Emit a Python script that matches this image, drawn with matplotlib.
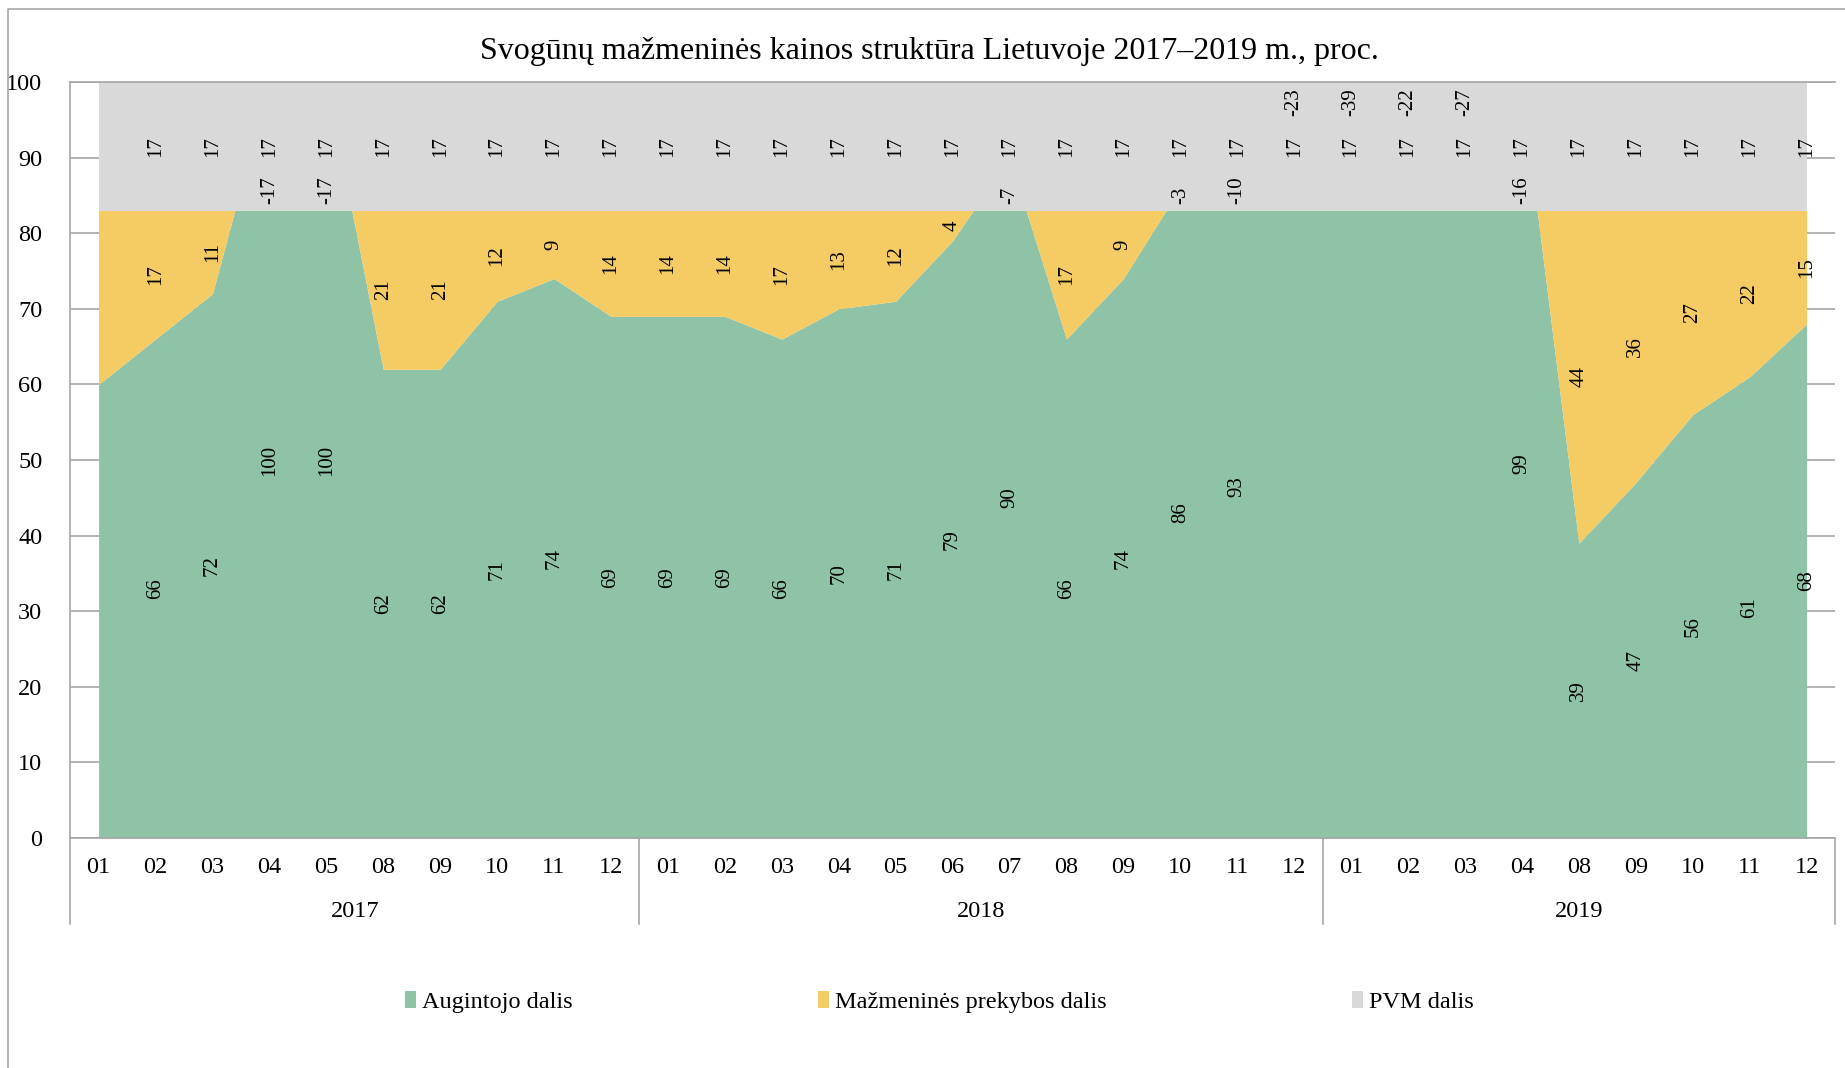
import numpy as np
import matplotlib
matplotlib.use('Agg')
import matplotlib.pyplot as plt
from matplotlib.lines import Line2D
from matplotlib.patches import Patch
import matplotlib.transforms as mtransforms

plt.rcParams['font.family'] = ['Liberation Serif', 'DejaVu Serif']

# menesiai pagal metus
years = ['2017', '2018', '2019']
months_2017 = ['01', '02', '03', '04', '05', '08', '09', '10', '11', '12']
months_2018 = ['01', '02', '03', '04', '05', '06', '07', '08', '09', '10', '11', '12']
months_2019 = ['01', '02', '03', '04', '08', '09', '10', '11', '12']

# kainos strukturos dalys, proc.
augintojo = [60, 66, 72, 100, 100, 62, 62, 71, 74, 69,
             69, 69, 66, 70, 71, 79, 90, 66, 74, 86, 93, 106,
             122, 105, 110, 99, 39, 47, 56, 61, 68]
prekybos = [23, 17, 11, -17, -17, 21, 21, 12, 9, 14,
            14, 14, 17, 13, 12, 4, -7, 17, 9, -3, -10, -23,
            -39, -22, -27, -16, 44, 36, 27, 22, 15]
pvm = [17, 17, 17, 17, 17, 17, 17, 17, 17, 17,
       17, 17, 17, 17, 17, 17, 17, 17, 17, 17, 17, 17,
       17, 17, 17, 17, 17, 17, 17, 17, 17]

series_names = ['Augintojo dalis', 'Mažmeninės prekybos dalis', 'PVM dalis']
colors = ['#8EC3A7', '#F5CB63', '#D9D9D9']

months = months_2017 + months_2018 + months_2019
x = np.arange(len(months))
c1 = np.array(augintojo, dtype=float)
c2 = c1 + np.array(prekybos)
c3 = c2 + np.array(pvm)

fig = plt.figure(figsize=(18.45, 10.68), dpi=100)
ax = fig.add_axes([0.038, 0.2154, 0.9566, 0.7078])

ax.fill_between(x, 0, c1, color=colors[0], lw=0, zorder=2)
ax.fill_between(x, c1, c2, color=colors[1], lw=0, zorder=2)
ax.fill_between(x, c2, c3, color=colors[2], lw=0, zorder=2)

ax.set_xlim(-0.5, len(months) - 0.5)
ax.set_ylim(0, 100)
ax.set_yticks(np.arange(0, 101, 10))
ax.grid(axis='y', color='#A6A6A6', lw=1.2, zorder=0)
ax.set_axisbelow(True)
ax.tick_params(axis='y', length=0, pad=20, labelsize=17.5)
ax.set_xticks(x)
ax.set_xticklabels(months)
ax.tick_params(axis='x', length=0, pad=14, labelsize=17.5)
ax.spines['right'].set_visible(False)
for s in ['left', 'bottom', 'top']:
    ax.spines[s].set_color('#A6A6A6')
    ax.spines[s].set_linewidth(1.2)
ax.spines['top'].set_zorder(3)

# reiksmiu etiketes
lbl = dict(rotation=90, fontsize=15, ha='center', zorder=4)
unlabeled = {0}
for i in x:
    if i in unlabeled:
        continue
    g, p, v = augintojo[i], prekybos[i], pvm[i]
    if g <= 100:
        ax.text(i, g / 2, str(g), va='center', **lbl)
    if p >= 0:
        ax.text(i, g + p / 2, str(p), va='center', **lbl)
    elif g <= 100:
        ax.text(i, 83.9, str(p), va='bottom', **lbl)
    else:
        ax.text(i, 99.2, str(p), va='top', **lbl)
    ax.text(i, c2[i] + v / 2, str(v), va='center', **lbl)

# metu lygis po menesiais
trans = mtransforms.blended_transform_factory(ax.transData, ax.transAxes)
groups = [months_2017, months_2018, months_2019]
start = 0
bounds = [-0.5]
for yr, grp in zip(years, groups):
    end = start + len(grp)
    ax.text((start + end - 1) / 2, -0.097, yr, transform=trans,
            ha='center', va='center', fontsize=17.5)
    bounds.append(end - 0.5)
    start = end
for b in bounds:
    ax.add_line(Line2D([b, b], [0, -0.114], transform=trans, color='#A6A6A6',
                       lw=1.2, clip_on=False))

fig.suptitle('Svogūnų mažmeninės kainos struktūra Lietuvoje 2017–2019 m., proc.',
             x=0.504, y=0.952, fontsize=23, va='center')

handles = [Patch(facecolor=c, edgecolor='none') for c in colors]
fig.legend(handles, series_names, loc='center', bbox_to_anchor=(0.509, 0.062),
           ncol=3, frameon=False, fontsize=17.5, handlelength=0.45, handleheight=0.75,
           handletextpad=0.25, columnspacing=10.1)

# ramelis aplink diagrama
fig.add_artist(Line2D([0.0043, 0.0043, 1.0], [0.0, 0.9916, 0.9916],
                      transform=fig.transFigure, color='#A6A6A6', lw=1.2))

fig.savefig('out.png', dpi=100)
